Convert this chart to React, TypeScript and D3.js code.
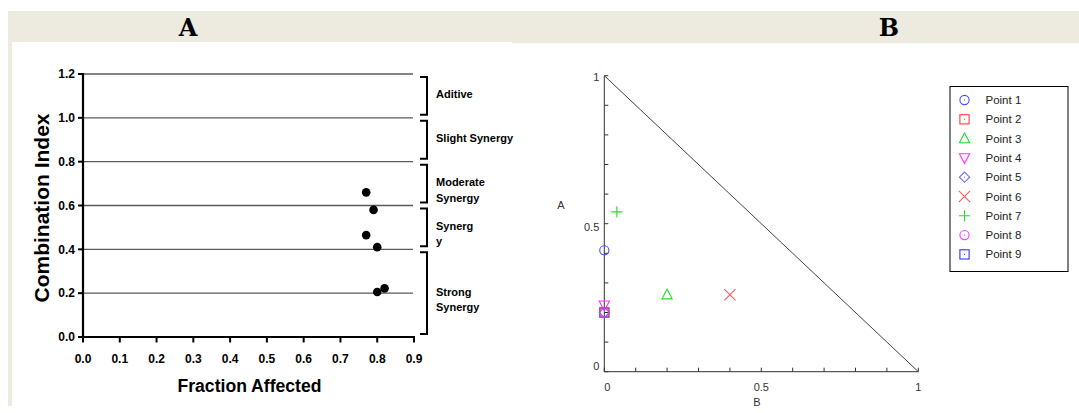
import React from "react";
import * as d3 from "d3";

// ---------- Panel A data ----------
const faValues = [0.77, 0.79, 0.77, 0.8, 0.8, 0.82];
const ciValues = [0.66, 0.58, 0.465, 0.41, 0.205, 0.222];
const xTicksA = [0, 0.1, 0.2, 0.3, 0.4, 0.5, 0.6, 0.7, 0.8, 0.9];
const yTicksA = [0, 0.2, 0.4, 0.6, 0.8, 1.0, 1.2];
const bandLow = [1.0, 0.8, 0.6, 0.4, 0.0];
const bandHigh = [1.2, 1.0, 0.8, 0.6, 0.4];
const bandLabels = [["Aditive"], ["Slight Synergy"], ["Moderate", "Synergy"], ["Synerg", "y"], ["Strong", "Synergy"]];

// ---------- Panel B data ----------
const pointNames = ["Point 1", "Point 2", "Point 3", "Point 4", "Point 5", "Point 6", "Point 7", "Point 8", "Point 9"];
const pointB = [0, 0, 0.2, 0, 0, 0.4, 0.04, 0, 0];
const pointA = [0.41, 0.2, 0.26, 0.225, 0.2, 0.26, 0.54, 0.2, 0.2];
const pointShapes = ["circle", "square", "triUp", "triDown", "diamond", "x", "plus", "circle", "square"];
const pointColors = ["#4a4aff", "#ff3b3b", "#22dd22", "#ff33ff", "#6b6bff", "#ff5a5a", "#22dd22", "#ff33ff", "#3535ff"];
const drawOrder = [8, 7, 3, 1, 4, 0, 2, 5, 6];
const xTicksB = [0, 0.1, 0.2, 0.3, 0.4, 0.5, 0.6, 0.7, 0.8, 0.9, 1];
const labelTicksB = [0, 0.5, 1];

const SANS = "'Liberation Sans', Arial, sans-serif";
const BEIGE = "#edeae0";

function Marker({ shape, cx, cy, color, dot }: { shape: string; cx: number; cy: number; color: string; dot?: boolean }) {
  const s = 4.6;
  const common = { fill: "none", stroke: color, strokeWidth: 1.1 };
  let el: React.ReactNode = null;
  if (shape === "circle") el = <circle cx={cx} cy={cy} r={s} {...common} />;
  else if (shape === "square") el = <rect x={cx - s} y={cy - s} width={2 * s} height={2 * s} {...common} />;
  else if (shape === "triUp")
    el = <polygon points={`${cx},${cy - s - 1} ${cx - s - 0.5},${cy + s - 0.5} ${cx + s + 0.5},${cy + s - 0.5}`} {...common} />;
  else if (shape === "triDown")
    el = <polygon points={`${cx},${cy + s + 1} ${cx - s - 0.5},${cy - s + 0.5} ${cx + s + 0.5},${cy - s + 0.5}`} {...common} />;
  else if (shape === "diamond")
    el = <polygon points={`${cx},${cy - s - 0.5} ${cx + s + 0.5},${cy} ${cx},${cy + s + 0.5} ${cx - s - 0.5},${cy}`} {...common} />;
  else if (shape === "x")
    el = <path d={`M${cx - s - 1},${cy - s - 1}L${cx + s + 1},${cy + s + 1}M${cx - s - 1},${cy + s + 1}L${cx + s + 1},${cy - s - 1}`} {...common} />;
  else if (shape === "plus")
    el = <path d={`M${cx - s - 1},${cy}L${cx + s + 1},${cy}M${cx},${cy - s - 1}L${cx},${cy + s + 1}`} {...common} />;
  return (
    <g>
      {el}
      {dot && (shape === "circle" || shape === "square" || shape === "diamond") ? (
        <rect x={cx - 0.5} y={cy - 0.5} width={1} height={1} fill={color} />
      ) : null}
    </g>
  );
}

export default function App() {
  // Panel A scales
  const xA = d3.scaleLinear().domain([0, 0.9]).range([83, 414]);
  const yA = d3.scaleLinear().domain([0, 1.2]).range([337, 74]);
  // Panel B scales
  const xB = d3.scaleLinear().domain([0, 1]).range([604.3, 918.3]);
  const yB = d3.scaleLinear().domain([0, 1]).range([371.7, 75.7]);

  const bracketX = 427;
  const diag = d3.line<[number, number]>().x((d) => xB(d[0])).y((d) => yB(d[1]));

  return (
    <svg
      width={1079}
      height={413}
      style={{ position: "absolute", left: 0, top: 0, display: "block" }}
      fontFamily={SANS}
    >
      <rect x={0} y={0} width={1079} height={413} fill="#ffffff" />
      <rect x={8} y={11} width={1071} height={31} fill={BEIGE} />
      <rect x={512} y={42} width={35} height={1.3} fill={BEIGE} />
      <rect x={547} y={42} width={532} height={1.3} fill={BEIGE} />
      <rect x={8} y={11} width={4} height={395} fill={BEIGE} />
      <text x={188} y={35.7} textAnchor="middle" fontFamily="'DejaVu Serif', serif" fontWeight="bold" fontSize={24} fill="#000">
        A
      </text>
      <text x={889} y={35.7} textAnchor="middle" fontFamily="'DejaVu Serif', serif" fontWeight="bold" fontSize={24} fill="#000">
        B
      </text>

      {/* ---------- Panel A ---------- */}
      <g>
        {yTicksA.filter((t) => t > 0).map((t) => (
          <line key={"g" + t} x1={xA(0)} x2={413} y1={yA(t)} y2={yA(t)} stroke="#5a5a5a" strokeWidth={1.3} />
        ))}
        <line x1={xA(0)} x2={xA(0)} y1={yA(1.2) - 1} y2={yA(0) + 1} stroke="#000" strokeWidth={2.2} />
        <line x1={xA(0) - 1} x2={xA(0.9) + 1} y1={yA(0)} y2={yA(0)} stroke="#000" strokeWidth={2.2} />
        {yTicksA.map((t) => (
          <g key={"yt" + t}>
            <line x1={xA(0) - 5} x2={xA(0)} y1={yA(t)} y2={yA(t)} stroke="#000" strokeWidth={2} />
            <text x={xA(0) - 8} y={yA(t) + 4.3} textAnchor="end" fontWeight="bold" fontSize={12} fill="#000">
              {t.toFixed(1)}
            </text>
          </g>
        ))}
        {xTicksA.map((t) => (
          <g key={"xt" + t}>
            <line x1={xA(t)} x2={xA(t)} y1={yA(0)} y2={yA(0) + 5.5} stroke="#000" strokeWidth={2} />
            <text x={xA(t)} y={362.5} textAnchor="middle" fontWeight="bold" fontSize={12} fill="#000">
              {t.toFixed(1)}
            </text>
          </g>
        ))}
        <text x={249.5} y={392} textAnchor="middle" fontWeight="bold" fontSize={17.6} fill="#000">
          Fraction Affected
        </text>
        <text transform={`translate(48.5,208) rotate(-90)`} textAnchor="middle" fontWeight="bold" fontSize={21} fill="#000">
          Combination Index
        </text>
        {bandLow.map((lo, i) => {
          const top = yA(bandHigh[i]) + 3;
          const bot = yA(lo) - 3;
          const mid = (top + bot) / 2;
          const lines = bandLabels[i];
          return (
            <g key={"b" + i}>
              <path d={`M${bracketX - 7},${top}H${bracketX}V${bot}H${bracketX - 7}`} fill="none" stroke="#000" strokeWidth={2} />
              {lines.map((l, j) => (
                <text key={j} x={436} y={mid + 2.5 + j * 15.5} fontWeight="bold" fontSize={11} fill="#000">
                  {l}
                </text>
              ))}
            </g>
          );
        })}
        {faValues.map((f, i) => (
          <circle key={"p" + i} cx={xA(f)} cy={yA(ciValues[i])} r={4.3} fill="#000" />
        ))}
      </g>

      {/* ---------- Panel B ---------- */}
      <g fontSize={11} fill="#333">
        <path d={diag([[0, 1], [1, 0]]) || ""} fill="none" stroke="#444" strokeWidth={1} />
        <line x1={xB(0)} x2={xB(0)} y1={yB(1)} y2={yB(0)} stroke="#333" strokeWidth={1} />
        <line x1={xB(0)} x2={xB(1)} y1={yB(0)} y2={yB(0)} stroke="#333" strokeWidth={1} />
        {xTicksB.map((t) => (
          <g key={"bt" + t}>
            <line x1={xB(0)} x2={xB(0) + 4} y1={yB(t)} y2={yB(t)} stroke="#333" strokeWidth={1} />
            <line x1={xB(t)} x2={xB(t)} y1={yB(0)} y2={yB(0) - 4} stroke="#333" strokeWidth={1} />
          </g>
        ))}
        {labelTicksB.map((t) => (
          <g key={"bl" + t}>
            <text x={xB(0) - 5} y={yB(t) + (t === 0 ? -1.5 : t === 1 ? 5 : 7)} textAnchor="end" fill="#333">
              {t === 0.5 ? "0.5" : String(t)}
            </text>
            <text x={xB(t) + (t === 0 ? 3 : 0)} y={391} textAnchor="middle" fill="#333">
              {t === 0.5 ? "0.5" : String(t)}
            </text>
          </g>
        ))}
        <text x={757} y={406} textAnchor="middle" fill="#333">B</text>
        <text x={561} y={209} textAnchor="middle" fill="#333">A</text>

        {drawOrder.map((i) => (
          <Marker key={"m" + i} shape={pointShapes[i]} cx={xB(pointB[i])} cy={yB(pointA[i])} color={pointColors[i]} />
        ))}

        <rect x={950} y={86.5} width={118} height={185} fill="#fff" stroke="#000" strokeWidth={1} />
        {pointNames.map((n, i) => (
          <g key={"lg" + i}>
            <Marker shape={pointShapes[i]} cx={964.5} cy={100 + i * 19.3} color={pointColors[i]} dot />
            <text x={985.5} y={104 + i * 19.3} fontSize={11.5} fill="#222">
              {n}
            </text>
          </g>
        ))}
      </g>
    </svg>
  );
}
